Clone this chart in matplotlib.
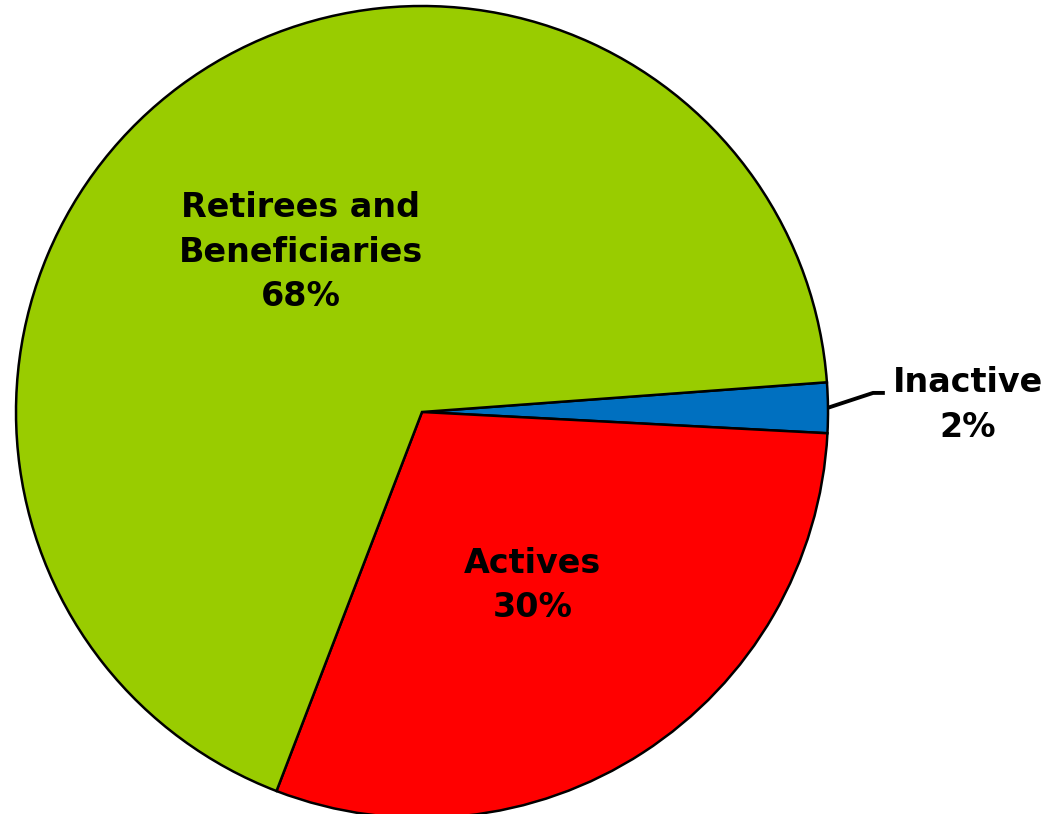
import numpy as np
import matplotlib
matplotlib.use("Agg")
import matplotlib.pyplot as plt

# data
labels = ["Inactive", "Actives", "Retirees and\nBeneficiaries"]
values = [2, 30, 68]
colors = ["#0070C0", "#FF0000", "#99CC00"]
start_angle = 4.2

W, H = 1056, 814
fig = plt.figure(figsize=(W / 100, H / 100), dpi=100)
ax = fig.add_axes([0, 0, 1, 1])

wedges, _ = ax.pie(values, colors=colors, startangle=start_angle,
                   counterclock=False,
                   wedgeprops=dict(edgecolor="black", linewidth=1.8))

# place the pie like the reference: center at (422, 412) px, radius 406 px
R = 406.0
cx, cy = 422.0, H - 412.0
ax.set_xlim(-cx / R, (W - cx) / R)
ax.set_ylim(-cy / R, (H - cy) / R)
ax.set_aspect("equal")
ax.axis("off")

font = dict(family="DejaVu Sans", fontsize=24, fontweight="bold",
            ha="center", va="center", linespacing=1.45)

for w, lab, v in zip(wedges, labels, values):
    mid = np.deg2rad((w.theta1 + w.theta2) / 2)
    txt = f"{lab}\n{v}%"
    if v < 5:
        # outside label with leader line
        x0, y0 = np.cos(mid), np.sin(mid)
        ax.plot([x0, 1.111, 1.14], [y0, 0.047, 0.047], color="black",
                lw=2.8, solid_capstyle="butt")
        ax.text(1.345, 0.018, txt, **font)
    else:
        ax.text(0.5 * np.cos(mid), 0.5 * np.sin(mid) - 0.008, txt, **font)

fig.savefig("out.png", dpi=100)
